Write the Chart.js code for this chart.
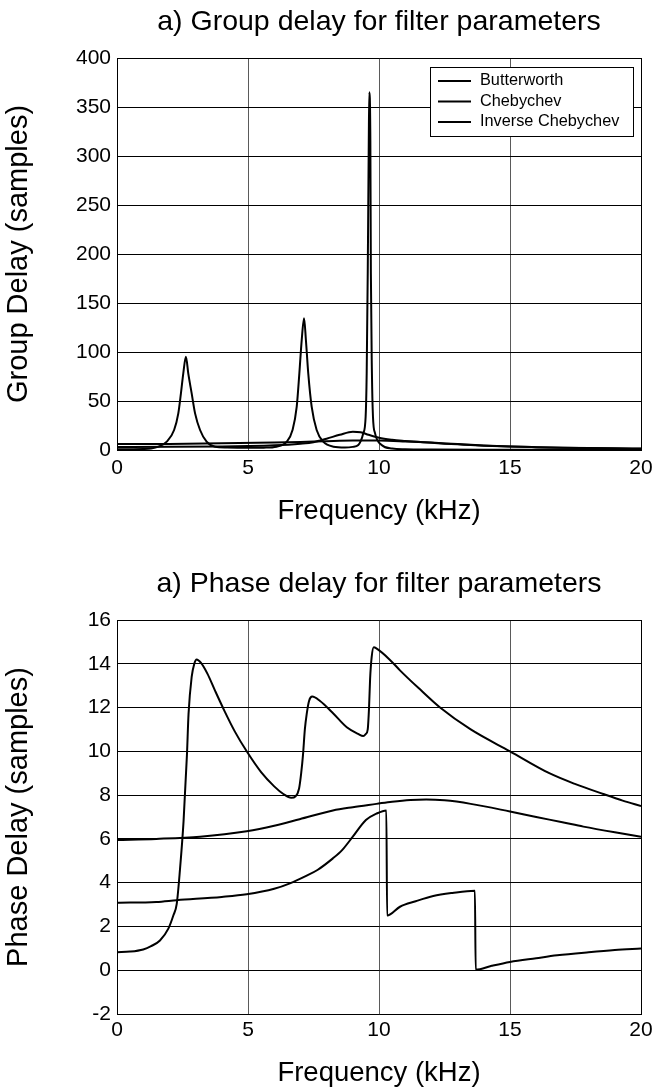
<!DOCTYPE html>
<html><head><meta charset="utf-8">
<script src="https://cdn.jsdelivr.net/npm/chart.js@4/dist/chart.umd.min.js"></script>
<style>
html,body{margin:0;padding:0;background:#fff;}
#wrap{position:relative;width:653px;height:1091px;overflow:hidden;background:#fff;}
canvas{position:absolute;left:0;}
</style></head><body>
<div id="wrap">
<canvas id="c1" width="653" height="529" style="top:0px"></canvas>
<canvas id="c2" width="653" height="529" style="top:562px"></canvas>
</div>
<script>
// ---------- DATA ----------
const seriesLabels = ['Butterworth', 'Chebychev', 'Inverse Chebychev'];
const freqTicks = [0, 5, 10, 15, 20];
const groupTicks = [0, 50, 100, 150, 200, 250, 300, 350, 400];
const phaseTicks = [-2, 0, 2, 4, 6, 8, 10, 12, 14, 16];

// Group delay (samples)
const groupButterFreq = [0, 2, 4, 6, 7, 8, 9, 10, 11, 12, 13, 14, 15, 16, 17, 18, 19, 20];
const groupButter     = [6.0, 6.2, 6.8, 7.6, 8.2, 9.0, 9.6, 9.6, 8.8, 7.6, 6.0, 4.6, 3.6, 2.9, 2.3, 1.9, 1.5, 1.2];

const groupChebyFreq = [0, 0.5, 1.0, 1.3, 1.58, 1.9, 2.18, 2.34, 2.44, 2.53, 2.63, 2.72, 2.85, 2.98, 3.17, 3.42, 3.74, 4.2, 5.0, 5.6, 6.09, 6.48, 6.7, 6.86, 6.96, 7.05, 7.14, 7.21, 7.3, 7.43, 7.62, 7.87, 8.26, 8.7, 9.0, 9.21, 9.4, 9.49, 9.53, 9.57, 9.61, 9.63, 9.67, 9.69, 9.73, 9.77, 9.85, 10.1, 10.5, 11, 12, 14, 16, 18, 20];
const groupCheby     = [0.8, 0.85, 1.0, 1.5, 3.4, 8.5, 20.4, 37.4, 57.8, 78.2, 95.2, 78.2, 57.8, 37.4, 20.4, 8.5, 3.4, 2.5, 2.2, 2.4, 3.4, 8.5, 20.4, 44.2, 78.2, 112.2, 134.4, 112.2, 78.2, 44.2, 20.4, 8.5, 3.4, 2.6, 3.2, 5.1, 17, 34, 78, 180, 316, 365, 316, 180, 78, 34, 17, 5.1, 1.5, 0.8, 0.5, 0.3, 0.3, 0.3, 0.3];

const groupInvFreq = [0, 2, 4, 5, 6, 7, 7.5, 8, 8.5, 9.0, 9.3, 9.6, 10.0, 10.5, 11, 11.5, 12, 12.5, 13, 13.5, 14, 15, 16, 17, 18, 19, 20];
const groupInv     = [3.1, 3.2, 3.6, 4.0, 4.8, 6.5, 8.0, 11.5, 15.5, 18.7, 18.2, 15.5, 12.5, 10.5, 9.3, 8.3, 7.3, 6.5, 5.8, 5.0, 4.4, 3.5, 2.9, 2.4, 2.0, 1.7, 1.5];

// Phase delay (samples)
const phaseButterFreq = [0, 1.5, 3.17, 4.95, 6, 6.97, 8.24, 9, 9.9, 10.5, 11.2, 11.8, 12.5, 13.5, 15, 16, 17, 17.8, 19, 20];
const phaseButter     = [5.95, 6.0, 6.1, 6.35, 6.6, 6.9, 7.3, 7.45, 7.6, 7.7, 7.78, 7.8, 7.76, 7.6, 7.25, 7.0, 6.76, 6.56, 6.3, 6.1];

const phaseChebyFreq = [0, 0.5, 1.0, 1.3, 1.64, 1.96, 2.15, 2.28, 2.4, 2.54, 2.67, 2.73, 2.85, 2.95, 3.04, 3.2, 3.45, 3.75, 4.1, 4.5, 4.95, 5.5, 6.0, 6.35, 6.65, 6.82, 6.95, 7.03, 7.1, 7.17, 7.24, 7.33, 7.45, 7.75, 8.2, 8.77, 9.2, 9.4, 9.5, 9.57, 9.62, 9.66, 9.72, 9.8, 9.9, 10.4, 10.8, 11.5, 12.33, 13.5, 15, 16.5, 17.5, 18.56, 19.3, 20];
const phaseCheby     = [0.82, 0.85, 0.95, 1.1, 1.36, 1.9, 2.5, 3.03, 4.55, 6.8, 9.85, 11.7, 13.4, 14.0, 14.2, 14.05, 13.55, 12.75, 11.85, 10.9, 10.0, 9.05, 8.4, 8.05, 7.88, 7.95, 8.3, 9.0, 9.85, 11.0, 11.7, 12.3, 12.5, 12.3, 11.8, 11.1, 10.8, 10.7, 10.8, 11.0, 12.0, 13.3, 14.3, 14.75, 14.7, 14.2, 13.7, 12.9, 12.0, 11.0, 10.0, 9.0, 8.5, 8.05, 7.75, 7.5];

const phaseInvFreq = [0, 1.5, 2.28, 4.0, 4.95, 6.0, 6.6, 7.2, 7.65, 8.24, 8.6, 9.0, 9.5, 9.9, 10.28, 10.31, 10.8, 11.4, 12.07, 12.8, 13.66, 13.69, 14.3, 15, 16, 16.8, 18, 19, 20];
const phaseInv     = [3.08, 3.12, 3.2, 3.35, 3.47, 3.72, 3.97, 4.3, 4.58, 5.11, 5.5, 6.1, 6.86, 7.15, 7.3, 2.5, 2.9, 3.15, 3.39, 3.53, 3.63, 0.02, 0.2, 0.38, 0.55, 0.68, 0.82, 0.92, 0.99];

// ---------- RENDER ----------
const FONT = "'Liberation Sans', Arial, Helvetica, sans-serif";
Chart.defaults.font.family = FONT;
Chart.defaults.color = '#000';

const boxLegend = {
  id: 'boxLegend',
  afterDatasetsDraw(chart) {
    const {ctx, chartArea: a} = chart;
    const w = 203, h = 69;
    const x0 = Math.round(a.right - 8 - w), y0 = Math.round(a.top + 9);
    ctx.save();
    ctx.fillStyle = '#fff';
    ctx.fillRect(x0, y0, w, h);
    ctx.strokeStyle = '#000';
    ctx.lineWidth = 1;
    ctx.strokeRect(x0 + 0.5, y0 + 0.5, w, h);
    ctx.font = '16.3px ' + FONT;
    ctx.textBaseline = 'middle';
    ctx.textAlign = 'left';
    ctx.fillStyle = '#000';
    chart.data.datasets.forEach((d, i) => {
      const y = y0 + 14 + i * 20.5;
      ctx.beginPath();
      ctx.lineWidth = 2;
      ctx.moveTo(x0 + 8, y);
      ctx.lineTo(x0 + 41, y);
      ctx.stroke();
      ctx.fillText(d.label, x0 + 50, y);
    });
    ctx.restore();
  }
};

function toXY(f, v) { return f.map((x, i) => ({x: x, y: v[i]})); }

function makeChart(id, cfg) {
  const yTicks = cfg.yTicks;
  const fMin = freqTicks[0], fMax = freqTicks[freqTicks.length - 1];
  return new Chart(document.getElementById(id), {
    type: 'line',
    data: {
      datasets: cfg.series.map((s, i) => ({
        label: seriesLabels[i],
        data: toXY(s[0], s[1]),
        borderColor: '#000',
        borderWidth: 2,
        pointRadius: 0,
        fill: false,
        cubicInterpolationMode: 'monotone'
      }))
    },
    options: {
      responsive: false,
      animation: false,
      devicePixelRatio: 1,
      layout: {padding: {left: 0, right: 12, top: 0, bottom: 0}},
      plugins: {
        legend: {display: false},
        tooltip: {enabled: false},
        title: {display: false}
      },
      scales: {
        xTop: {
          type: 'linear', position: 'top', min: fMin, max: fMax,
          ticks: {display: false},
          grid: {display: false, drawTicks: false},
          border: {display: false},
          title: {display: true, text: cfg.title, color: '#000', font: {size: 28.5}, padding: {top: 4.9, bottom: 0}},
          afterFit: s => { s.height = 58; s.paddingLeft = 0; s.paddingRight = 0; }
        },
        x: {
          type: 'linear', position: 'bottom', min: fMin, max: fMax,
          afterBuildTicks: s => { s.ticks = freqTicks.map(v => ({value: v})); },
          ticks: {font: {size: 21}, padding: cfg.xPad, color: '#000', maxRotation: 0, autoSkip: false},
          grid: {color: c => (c.tick && c.tick.value === fMax) ? '#000' : '#5a5a5a', lineWidth: 1, drawTicks: false},
          border: {color: '#000', width: 1},
          title: {display: true, text: 'Frequency (kHz)', color: '#000', font: {size: 27.5}, padding: {top: 0, bottom: 1}},
          afterFit: s => { s.height = cfg.xH; s.paddingLeft = 0; s.paddingRight = 0; }
        },
        y: {
          min: yTicks[0], max: yTicks[yTicks.length - 1],
          afterBuildTicks: s => { s.ticks = yTicks.map(v => ({value: v})); },
          ticks: {font: {size: 21}, padding: 6, color: '#000', autoSkip: false},
          grid: {color: '#000', lineWidth: 1, drawTicks: false},
          border: {color: '#000', width: 1},
          title: {display: true, text: cfg.yTitle, color: '#000', font: {size: 29}, padding: {top: 1.5, bottom: 0}},
          afterFit: s => { s.width = 117; }
        }
      }
    },
    plugins: cfg.legend ? [boxLegend] : []
  });
}

makeChart('c1', {
  title: 'a) Group delay for filter parameters',
  yTitle: 'Group Delay (samples)',
  yTicks: groupTicks,
  xH: 79, xPad: 5.4, legend: true,
  series: [[groupButterFreq, groupButter], [groupChebyFreq, groupCheby], [groupInvFreq, groupInv]]
});
makeChart('c2', {
  title: 'a) Phase delay for filter parameters',
  yTitle: 'Phase Delay (samples)',
  yTicks: phaseTicks,
  xH: 77, xPad: 3.4, legend: false,
  series: [[phaseButterFreq, phaseButter], [phaseChebyFreq, phaseCheby], [phaseInvFreq, phaseInv]]
});
</script>
</body></html>
